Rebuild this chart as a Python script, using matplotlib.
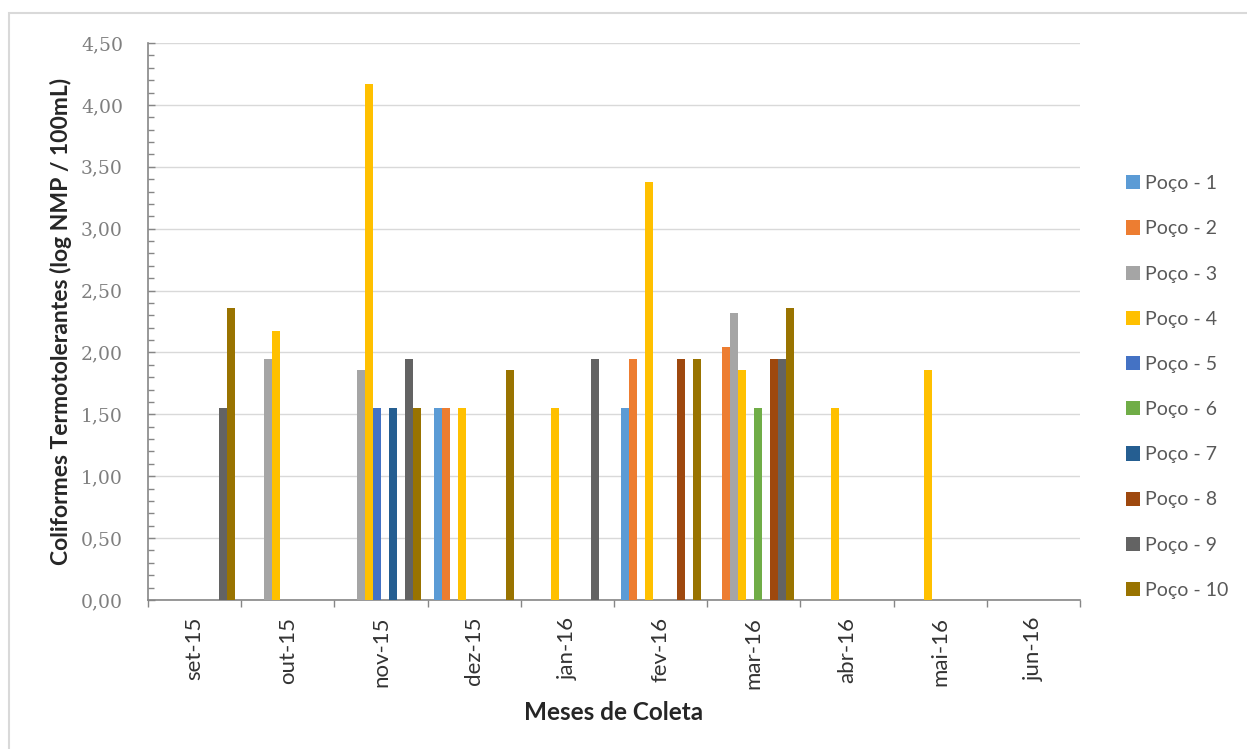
import numpy as np
import matplotlib
matplotlib.use('Agg')
import matplotlib.pyplot as plt
from matplotlib.patches import Rectangle
from matplotlib.ticker import MultipleLocator, FuncFormatter

# Meses de coleta e resultados por poço (log NMP / 100mL)
meses = ['set-15', 'out-15', 'nov-15', 'dez-15', 'jan-16',
         'fev-16', 'mar-16', 'abr-16', 'mai-16', 'jun-16']
pocos = ['Poço - 1', 'Poço - 2', 'Poço - 3', 'Poço - 4', 'Poço - 5',
         'Poço - 6', 'Poço - 7', 'Poço - 8', 'Poço - 9', 'Poço - 10']

poco_1  = [0, 0, 0, 1.55, 0, 1.55, 0, 0, 0, 0]
poco_2  = [0, 0, 0, 1.55, 0, 1.95, 2.04, 0, 0, 0]
poco_3  = [0, 1.95, 1.86, 0, 0, 0, 2.32, 0, 0, 0]
poco_4  = [0, 2.17, 4.17, 1.55, 1.55, 3.38, 1.86, 1.55, 1.86, 0]
poco_5  = [0, 0, 1.55, 0, 0, 0, 0, 0, 0, 0]
poco_6  = [0, 0, 0, 0, 0, 0, 1.55, 0, 0, 0]
poco_7  = [0, 0, 1.55, 0, 0, 0, 0, 0, 0, 0]
poco_8  = [0, 0, 0, 0, 0, 1.95, 1.95, 0, 0, 0]
poco_9  = [1.55, 0, 1.95, 0, 1.95, 0, 1.95, 0, 0, 0]
poco_10 = [2.36, 0, 1.55, 1.86, 0, 1.95, 2.36, 0, 0, 0]

valores = [poco_1, poco_2, poco_3, poco_4, poco_5,
           poco_6, poco_7, poco_8, poco_9, poco_10]

cores = ['#5B9BD5', '#ED7D31', '#A5A5A5', '#FFC000', '#4472C4',
         '#70AD47', '#255E91', '#9E480E', '#636363', '#997300']

W, H = 1247, 749
fig = plt.figure(figsize=(W / 100, H / 100), dpi=100)
fig.patch.set_facecolor('white')

# moldura clara do grafico
fig.patches.append(Rectangle((9 / W, -0.05), 1.2, 1 - 13 / H + 0.05,
                             transform=fig.transFigure, fill=False,
                             edgecolor='#D9D9D9', lw=1.5, zorder=0))

ax = fig.add_axes([148 / W, (H - 600) / H, (1080 - 148) / W, (600 - 43) / H])

x = np.arange(len(meses))
larg = 0.0858
for i, (serie, cor, nome) in enumerate(zip(valores, cores, pocos)):
    ax.bar(x + (i - 4.5) * larg, serie, width=larg, color=cor,
           label=nome, zorder=3)

ax.set_xlim(-0.5, len(meses) - 0.5)
ax.set_ylim(0, 4.5)

# eixo y
ax.yaxis.set_major_locator(MultipleLocator(0.5))
ax.yaxis.set_minor_locator(MultipleLocator(0.1))
ax.yaxis.set_major_formatter(FuncFormatter(lambda v, p: f'{v:.2f}'.replace('.', ',')))
ax.tick_params(axis='y', which='both', direction='in', color='#868686',
               width=1, pad=18)
ax.tick_params(axis='y', which='major', length=5, labelsize=13.5,
               labelcolor='#7F7F7F')
ax.tick_params(axis='y', which='minor', length=4)
for lab in ax.get_yticklabels():
    lab.set_family('DejaVu Serif')
ax.grid(axis='y', which='major', color='#D9D9D9', lw=1, zorder=0)

# eixo x: marcas nos limites das categorias
ax.set_xticks(x)
ax.set_xticklabels(meses, rotation=90, family='Lato', fontsize=16,
                   color='#333333')
ax.set_xticks(np.arange(len(meses) + 1) - 0.5, minor=True)
ax.tick_params(axis='x', which='major', length=0, pad=12)
ax.tick_params(axis='x', which='minor', length=5, direction='out',
               color='#868686', width=1)

for s in ['top', 'right']:
    ax.spines[s].set_visible(False)
for s in ['left', 'bottom']:
    ax.spines[s].set_color('#868686')
    ax.spines[s].set_linewidth(1.2)

ax.set_ylabel('Coliformes Termotolerantes (log NMP / 100mL)', family='Lato',
              fontweight='bold', fontsize=16.5, color='#262626')
ax.yaxis.set_label_coords(-0.082, 0.5)
ax.set_xlabel('Meses de Coleta', family='Lato', fontweight='bold',
              fontsize=17.5, color='#262626', labelpad=9)

fig.legend(loc='center left', bbox_to_anchor=(1108 / W, 1 - 387 / H),
           frameon=False, handlelength=0.75, handleheight=0.75,
           handletextpad=0.25, labelspacing=1.45,
           prop={'family': 'Lato', 'size': 14}, labelcolor='#595959')

fig.savefig('out.png', dpi=100)
